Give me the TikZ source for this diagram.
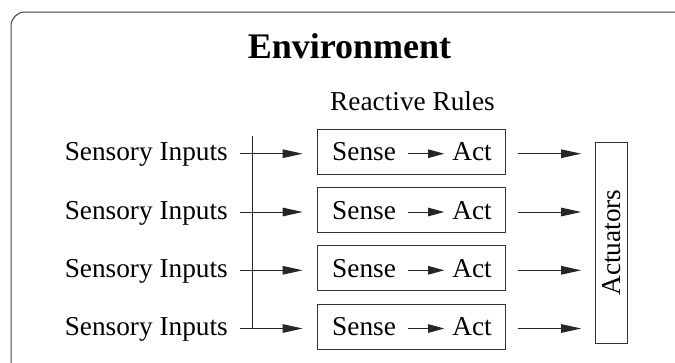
\documentclass[tikz,border=0pt]{standalone}
\usepackage{fontspec}
\setmainfont{Liberation Serif}
\usetikzlibrary{arrows.meta}
\begin{document}
\begin{tikzpicture}[x=1pt,y=-1pt,
  lbl/.style={inner sep=0pt, font=\fontsize{27.3}{30}\selectfont},
  rulebox/.style={draw=black!80, line width=1pt, minimum width=188pt, minimum height=45pt, inner sep=0pt},
  actbox/.style={draw=black!80, line width=1pt, minimum width=32pt, minimum height=201pt, inner sep=0pt},
  wire/.style={draw=black!85, line width=1pt},
  arr/.style={wire, -{Triangle[length=20pt,width=8.5pt]}},
  sarr/.style={wire, -{Triangle[length=16pt,width=8.5pt]}}
]
\useasboundingbox (0,0) rectangle (675,362);
\clip (0,0) rectangle (675,362);

% environment frame
\draw[black!75, line width=1pt, rounded corners=14pt] (11,12) rectangle (720,400);

% headings
\node[anchor=base, inner sep=0pt, font=\fontsize{36}{40}\selectfont\bfseries] (env) at (349.5,58) {Environment};
\node[lbl, anchor=base] (rr) at (412.5,110) {Reactive Rules};

% actuator column
\node[actbox] (act) at (611.7,242.5) {};
\node[lbl, rotate=90] (actlbl) at (act.center) {Actuators};

% bus feeding the rules
\coordinate (bustop) at (252.7,136);

\foreach \i/\y in {1/151.7,2/210,3/268.3,4/326.5}{
  \node[lbl, anchor=base east] (s\i) at (228,\y+9) {Sensory Inputs};
  \node[rulebox] (r\i) at (411.2,\y) {};
  \node[lbl, anchor=base west] (sen\i) at (332,\y+9) {Sense};
  \node[lbl, anchor=base east] (a\i) at (492,\y+9) {Act};
  \coordinate (in\i) at (240,\y+2);
  \coordinate (ra\i) at (r\i.east |- in\i);
  \draw[arr] (in\i) -- ([xshift=-14pt]r\i.west |- in\i);
  \draw[sarr] ([xshift=12pt]sen\i.east |- in\i) -- ([xshift=-8pt]a\i.west |- in\i);
  \draw[arr] ([xshift=12pt]ra\i) -- ([xshift=-14pt]act.west |- ra\i);
}
\draw[wire] (bustop) -- (bustop |- in4);
\end{tikzpicture}
\end{document}
